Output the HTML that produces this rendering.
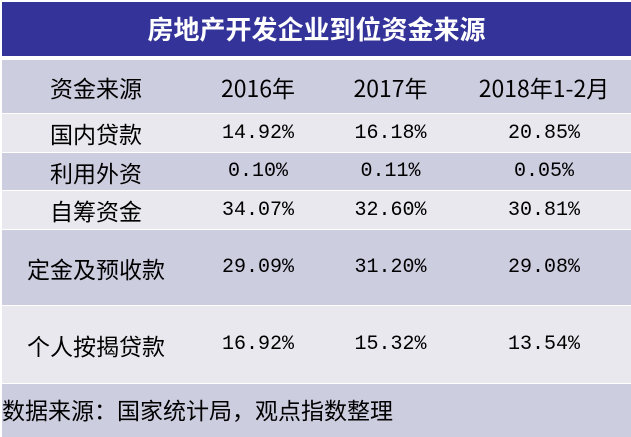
<!DOCTYPE html>
<html><head><meta charset="utf-8"><style>
body{margin:0;width:631px;height:437px;background:#fff;position:relative;overflow:hidden;font-family:"Noto Sans CJK SC",sans-serif;}
.t{position:absolute;left:2px;top:2px;width:629px;height:54px;background:#333399;color:#fff;font-size:26px;font-weight:bold;text-align:center;line-height:54px;}
.r{position:absolute;left:2px;width:629px;}
.c{position:absolute;top:0;height:100%;display:flex;align-items:center;justify-content:center;font-size:23px;color:#000;}
.n{font-family:"Liberation Mono","Noto Sans CJK SC",monospace;font-size:20px;}
.d{background:#cdcde0}.l{background:#e8e8ee}
.f{position:absolute;left:2px;top:384px;width:629px;height:53px;background:#cdcde0;font-size:23px;line-height:50px;color:#000;}
</style></head><body>
<div class="t">房地产开发企业到位资金来源</div>
<div class="r d" style="top:60px;height:53px"><div class="c" style="left:0;width:188px">资金来源</div><div class="c" style="left:190px;width:132px">2016年</div><div class="c" style="left:324px;width:129px">2017年</div><div class="c" style="left:455px;width:174px">2018年1-2月</div></div>
<div class="r l" style="top:114px;height:38px"><div class="c" style="left:0;width:188px">国内贷款</div><div class="c n" style="left:190px;width:132px">14.92%</div><div class="c n" style="left:324px;width:129px">16.18%</div><div class="c n" style="left:455px;width:174px">20.85%</div></div>
<div class="r d" style="top:153px;height:37px"><div class="c" style="left:0;width:188px">利用外资</div><div class="c n" style="left:190px;width:132px">0.10%</div><div class="c n" style="left:324px;width:129px">0.11%</div><div class="c n" style="left:455px;width:174px">0.05%</div></div>
<div class="r l" style="top:191px;height:38px"><div class="c" style="left:0;width:188px">自筹资金</div><div class="c n" style="left:190px;width:132px">34.07%</div><div class="c n" style="left:324px;width:129px">32.60%</div><div class="c n" style="left:455px;width:174px">30.81%</div></div>
<div class="r d" style="top:230px;height:75px"><div class="c" style="left:0;width:188px">定金及预收款</div><div class="c n" style="left:190px;width:132px">29.09%</div><div class="c n" style="left:324px;width:129px">31.20%</div><div class="c n" style="left:455px;width:174px">29.08%</div></div>
<div class="r l" style="top:306px;height:77px"><div class="c" style="left:0;width:188px">个人按揭贷款</div><div class="c n" style="left:190px;width:132px">16.92%</div><div class="c n" style="left:324px;width:129px">15.32%</div><div class="c n" style="left:455px;width:174px">13.54%</div></div>
<div class="f">数据来源：国家统计局，观点指数整理</div>
</body></html>
